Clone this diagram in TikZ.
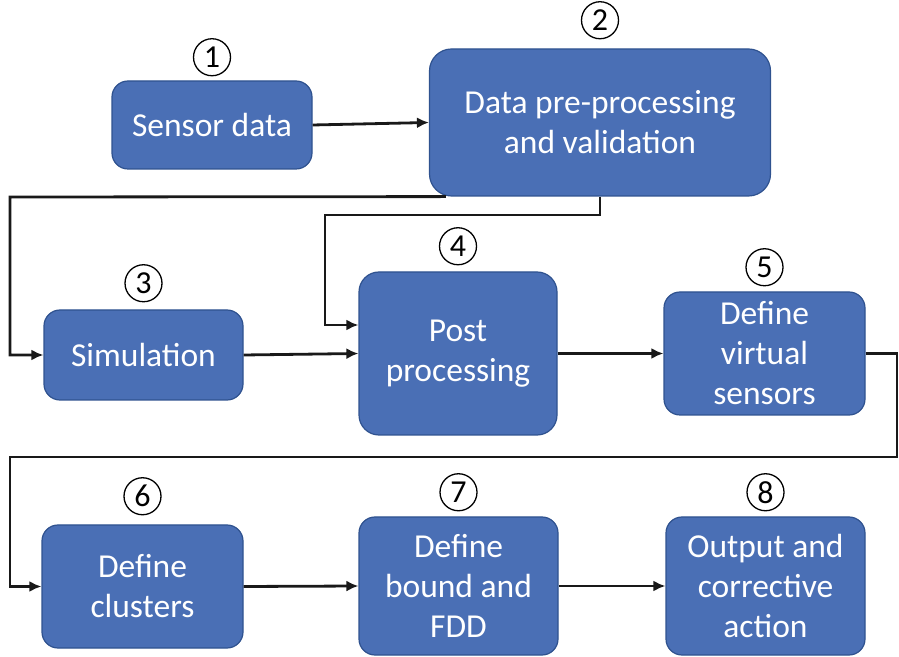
\documentclass[tikz,border=0pt]{standalone}
\usepackage{fontspec}
\setmainfont{Carlito}
\usetikzlibrary{arrows.meta,positioning}
\definecolor{boxfill}{HTML}{4A6FB5}
\definecolor{boxline}{HTML}{2F528F}
\tikzset{stage/.style={rectangle,rounded corners=16pt,draw=boxline,line width=1.2pt,fill=boxfill,
    text=white,align=center,inner sep=0pt,font=\fontsize{33.5}{40}\selectfont},
  num/.style={circle,draw=black,line width=1.3pt,minimum size=37pt,inner sep=0pt,
    font=\fontsize{32}{32}\selectfont},
  flow/.style={line width=2.8pt,draw=black!90,-{Latex[length=12pt,width=11pt]}}}
\begin{document}
\begin{tikzpicture}[x=1pt,y=1pt]
\useasboundingbox (0,0) rectangle (899,656);
% stages
\node[stage,minimum width=200pt,minimum height=88pt] (sensor) at (212,531) {Sensor data};
\node[stage,rounded corners=22pt,minimum width=341pt,minimum height=147pt] (prep) at (600,533.5) {Data pre-processing\\and validation};
\node[stage,minimum width=199pt,minimum height=90pt] (sim) at (143.5,301) {Simulation};
\node[stage,rounded corners=20pt,minimum width=198pt,minimum height=163pt] (post) at (458,302.5) {Post\\processing};
\node[stage,minimum width=201pt,minimum height=123pt] (virt) at (764.5,302.5) {Define\\virtual\\sensors};
\node[stage,minimum width=201pt,minimum height=123pt] (clust) at (142.5,69.5) {Define\\clusters};
\node[stage,minimum width=199pt,minimum height=138pt] (bound) at (458.5,70) {Define\\bound and\\FDD};
\node[stage,minimum width=199pt,minimum height=138pt] (output) at (765.5,70) {Output and\\corrective\\action};
% step numbers
\node[num,above=4pt of sensor] (n1) {1};
\node[num,above=9pt of prep] (n2) {2};
\node[num,above=7pt of sim] (n3) {3};
\node[num,above=6pt of post] (n4) {4};
\node[num,above=5pt of virt] (n5) {5};
\node[num,above=9pt of clust] (n6) {6};
\node[num,above=5pt of bound] (n7) {7};
\node[num,above=5pt of output] (n8) {8};
% connectors
\draw[flow] (sensor.east) -- (prep.west);
\draw[flow] ([xshift=17pt]prep.south west) -- (10,459) |- (sim.west);
\draw[flow] (prep.south) -- (600,441) -| (325,331) -- (post.west |- 0,331);
\draw[flow] (sim.east) -- (post.west);
\draw[flow] (post.east) -- (virt.west);
\draw[flow] (virt.east) -| (897,199) -- (10,199) |- (clust.west);
\draw[flow] (clust.east) -- (bound.west);
\draw[flow] (bound.east) -- (output.west);
\end{tikzpicture}
\end{document}
